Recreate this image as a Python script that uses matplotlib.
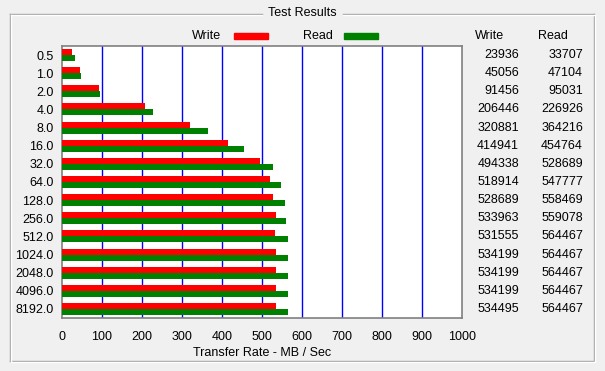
import matplotlib
matplotlib.use("Agg")
import matplotlib.pyplot as plt
from matplotlib.patches import Rectangle
from matplotlib.lines import Line2D
import numpy as np

plt.rcParams['font.family'] = ['Liberation Sans', 'DejaVu Sans']

sizes = ["0.5", "1.0", "2.0", "4.0", "8.0", "16.0", "32.0", "64.0", "128.0",
         "256.0", "512.0", "1024.0", "2048.0", "4096.0", "8192.0"]
write_kb = [23936, 45056, 91456, 206446, 320881, 414941, 494338, 518914,
            528689, 533963, 531555, 534199, 534199, 534199, 534495]
read_kb = [33707, 47104, 95031, 226926, 364216, 454764, 528689, 547777,
           558469, 559078, 564467, 564467, 564467, 564467, 564467]
xticks = [0, 100, 200, 300, 400, 500, 600, 700, 800, 900, 1000]

W, H = 605, 371
fig = plt.figure(figsize=(W / 100, H / 100), dpi=100)
fig.patch.set_facecolor('#f0f0f0')

def fx(px):
    return px / W

def fy(py):
    return 1 - py / H

# plot area
ax = fig.add_axes([fx(62), fy(318), fx(462) - fx(62), fy(46) - fy(318)])
ax.set_facecolor('white')
y = np.arange(len(sizes))
bh = 0.33
write_mb = np.array(write_kb) / 1000
read_mb = np.array(read_kb) / 1000
ax.barh(y - bh / 2, write_mb, height=bh, color='#ff0000', zorder=3)
ax.barh(y + bh / 2, read_mb, height=bh, color='#008000', zorder=3)
ax.set_xlim(0, 1000)
ax.set_ylim(len(sizes) - 0.5, -0.5)
ax.set_xticks(xticks)
ax.set_yticks(y)
ax.set_yticklabels(sizes)
ax.tick_params(length=0, labelsize=9, pad=6)
ax.tick_params(axis='x', pad=9)
for v in xticks[1:-1]:
    ax.axvline(v, color='#0000ff', lw=1, zorder=1)
for s in ax.spines.values():
    s.set_color('#808080')
    s.set_linewidth(1.2)
ax.set_xlabel('Transfer Rate - MB / Sec', fontsize=9, labelpad=3)

# right-hand value table
for i in range(len(sizes)):
    ax.text(1.1425, i, str(write_kb[i]), transform=ax.get_yaxis_transform(),
            fontsize=9, va='center', ha='right', clip_on=False)
    ax.text(1.3025, i, str(read_kb[i]), transform=ax.get_yaxis_transform(),
            fontsize=9, va='center', ha='right', clip_on=False)
fig.text(fx(475), fy(36), 'Write', fontsize=9, va='center', ha='left')
fig.text(fx(538), fy(36), 'Read', fontsize=9, va='center', ha='left')

# legend
fig.text(fx(192), fy(36), 'Write', fontsize=9, va='center', ha='left')
fig.patches.append(Rectangle((fx(234), fy(39)), fx(34), fy(33) - fy(39),
                             color='#ff0000', transform=fig.transFigure))
fig.text(fx(303), fy(36), 'Read', fontsize=9, va='center', ha='left')
fig.patches.append(Rectangle((fx(344), fy(39)), fx(34), fy(33) - fy(39),
                             color='#008000', transform=fig.transFigure))

# group box
def seg(x0, y0, x1, y1, c):
    fig.lines.append(Line2D([fx(x0), fx(x1)], [fy(y0), fy(y1)], color=c, lw=1,
                            transform=fig.transFigure))

for off, c in [(0, '#a0a0a0'), (1, 'white')]:
    seg(10 + off, 14 + off, 10 + off, 361 + off, c)
    seg(10 + off, 361 + off, 594 + off, 361 + off, c)
    seg(594 + off, 14 + off, 594 + off, 361 + off, c)
    seg(10 + off, 14 + off, 262, 14 + off, c)
    seg(343, 14 + off, 594 + off, 14 + off, c)
fig.text(fx(302.5), fy(13), 'Test Results', fontsize=9, va='center', ha='center')

fig.savefig('out.png', dpi=100, facecolor=fig.get_facecolor())
